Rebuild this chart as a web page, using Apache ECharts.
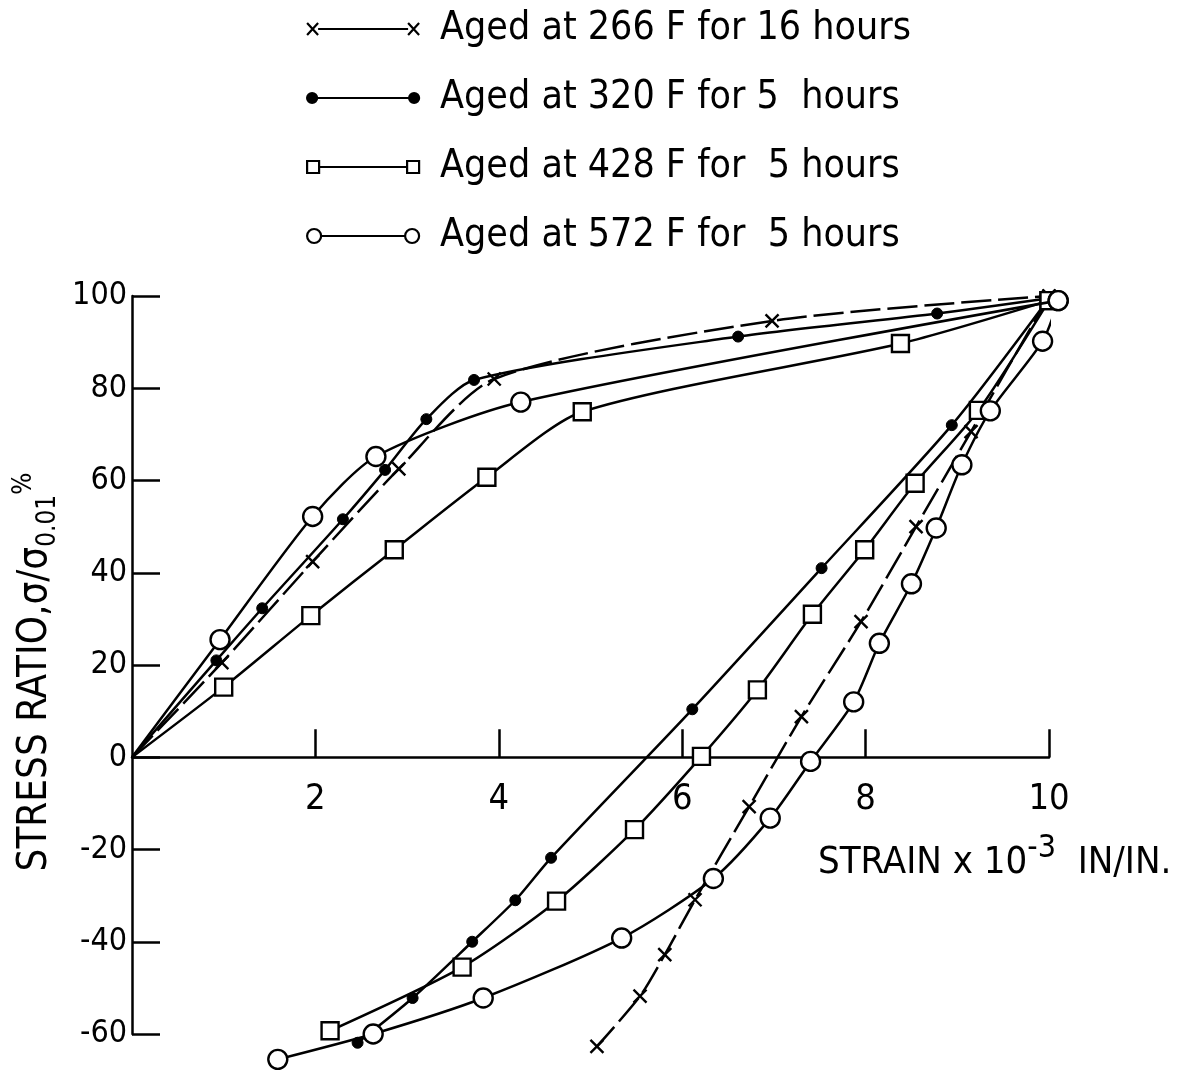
<!DOCTYPE html>
<html>
<head>
<meta charset="utf-8">
<script src="https://cdn.jsdelivr.net/npm/echarts@6/dist/echarts.min.js"></script>
<style>
  html, body { margin: 0; padding: 0; background: #fff; }
  #chart { width: 1184px; height: 1072px; }
</style>
</head>
<body>
<div id="chart"></div>
<script>
// Stress ratio vs. strain, loading branch then unloading branch, per ageing condition.
const seriesNames = [
  'Aged at 266 F for 16 hours',
  'Aged at 320 F for 5  hours',
  'Aged at 428 F for  5 hours',
  'Aged at 572 F for  5 hours'
];

// [strain x 10^-3 in/in, stress ratio %]
const load266 = [[0, 0], [0.98, 20.5], [1.97, 42.4], [2.91, 62.5], [3.95, 82.0], [6.98, 94.6], [10.0, 100]];
const unload266 = [[10.0, 100], [9.15, 70.6], [8.55, 50.0], [7.95, 29.4], [7.30, 8.8], [6.73, -10.7],
  [6.14, -30.9], [5.81, -42.8], [5.54, -51.8], [5.07, -62.7]];

const load320 = [[0, 0], [0.92, 21.0], [1.42, 32.3], [2.30, 51.6], [2.76, 62.3], [3.21, 73.3], [3.73, 81.8],
  [6.61, 91.2], [8.78, 96.2], [10.0, 99.5]];
const unload320 = [[10.0, 99.5], [8.94, 72.0], [7.52, 41.0], [6.11, 10.4], [4.57, -21.8], [4.18, -31.0],
  [3.71, -40.0], [3.06, -52.2], [2.46, -61.9]];

const load428 = [[0, 0], [1.00, 15.2], [1.95, 30.7], [2.86, 45.0], [3.87, 60.7], [4.91, 74.9], [8.38, 89.7], [10.0, 99]];
const unload428 = [[10.0, 99], [9.23, 75.2], [8.54, 59.4], [7.99, 45.0], [7.42, 31.0], [6.82, 14.6], [6.21, 0.2],
  [5.48, -15.7], [4.63, -31.2], [3.60, -45.5], [2.16, -59.3]];

const load572 = [[0, 0], [0.96, 25.5], [1.97, 52.2], [2.66, 65.2], [4.24, 77.0], [10.1, 99]];
const unload572 = [[10.1, 99], [9.93, 90.2], [9.36, 75.1], [9.05, 63.4], [8.77, 49.7], [8.50, 37.6], [8.15, 24.7],
  [7.87, 12.0], [7.40, -0.9], [6.96, -13.2], [6.34, -26.3], [5.34, -39.2], [3.83, -52.2], [2.63, -60.0], [1.59, -65.5]];

const xTicks = [0, 2, 4, 6, 8, 10];
const yTicks = [-60, -40, -20, 0, 20, 40, 60, 80, 100];

const NARROW = "'Liberation Sans Narrow', 'DejaVu Sans Condensed', 'Roboto Condensed', 'Liberation Sans', sans-serif";
const INK = '#000';

// plot area
const GRID = { left: 132, right: 135, top: 296, bottom: 38 };
const plotHeight = 1072 - GRID.top - GRID.bottom;
const yMin = yTicks[0], yMax = yTicks[yTicks.length - 1];
// the strain axis (with its labels) sits on the zero-stress line
const xAxisOffset = -plotHeight * (0 - yMin) / (yMax - yMin);

const markerX = 'path://M0,0L10,10M10,0L0,10';

const seriesStyles = [
  { symbol: markerX, symbolSize: 13, itemStyle: { color: 'rgba(0,0,0,0)', borderColor: INK, borderWidth: 2.4 },
    lineType: [30, 7] },
  { symbol: 'circle', symbolSize: 11, itemStyle: { color: INK, borderColor: INK, borderWidth: 1 }, lineType: 'solid' },
  { symbol: 'rect', symbolSize: 17, itemStyle: { color: '#fff', borderColor: INK, borderWidth: 2.4 }, lineType: 'solid' },
  { symbol: 'circle', symbolSize: 19, itemStyle: { color: '#fff', borderColor: INK, borderWidth: 2.4 }, lineType: 'solid' }
];

const branches = [
  [load266, unload266],
  [load320, unload320],
  [load428, unload428],
  [load572, unload572]
];

// the origin is shared by every loading branch and carries no marker
function toData(points) {
  return points.map(p => (p[0] === 0 && p[1] === 0) ? { value: p, symbol: 'none' } : { value: p });
}

const series = [];
branches.forEach((pair, i) => {
  const st = seriesStyles[i];
  pair.forEach(points => {
    series.push({
      type: 'line',
      name: seriesNames[i],
      data: toData(points),
      smooth: 0.25,
      clip: false,
      symbol: st.symbol,
      symbolSize: st.symbolSize,
      itemStyle: st.itemStyle,
      lineStyle: { color: INK, width: 2.5, type: st.lineType },
      z: 2 + i
    });
  });
});

const legendIcons = [
  'path://M0,2L11,14M11,2L0,14M11,8L101,8M101,2L112,14M112,2L101,14',
  'path://M10,8A5,5,0,1,1,0,8A5,5,0,1,1,10,8ZM10,8L102,8M112,8A5,5,0,1,1,102,8A5,5,0,1,1,112,8Z',
  'path://M0,2H12V14H0ZM12,8H100M100,2H112V14H100Z',
  'path://M14,8A7,7,0,1,1,0,8A7,7,0,1,1,14,8ZM14,8H98M112,8A7,7,0,1,1,98,8A7,7,0,1,1,112,8Z'
];
const legendFills = ['rgba(0,0,0,0)', INK, '#fff', '#fff'];

const chart = echarts.init(document.getElementById('chart'), null, { renderer: 'canvas' });

chart.setOption({
  animation: false,
  backgroundColor: '#fff',
  legend: {
    orient: 'vertical',
    left: 306,
    top: 4,
    padding: 0,
    itemWidth: 112,
    itemHeight: 16,
    itemGap: 19,
    selectedMode: false,
    textStyle: { fontFamily: NARROW, fontSize: 39, lineHeight: 50, color: INK, padding: [0, 0, 0, 16] },
    data: seriesNames.map((n, i) => ({
      name: n,
      icon: legendIcons[i],
      itemStyle: { color: legendFills[i], borderColor: INK, borderWidth: 2.2 }
    }))
  },
  grid: {
    left: GRID.left, right: GRID.right, top: GRID.top, bottom: GRID.bottom,
    containLabel: false,
    outerBoundsMode: 'none'
  },
  xAxis: {
    type: 'value',
    min: xTicks[0],
    max: xTicks[xTicks.length - 1],
    interval: 2,
    offset: xAxisOffset,
    axisLine: { onZero: false, lineStyle: { color: INK, width: 2.5 } },
    axisTick: { inside: true, length: 28, lineStyle: { color: INK, width: 2.5 } },
    axisLabel: {
      showMinLabel: false,
      margin: 24,
      color: INK,
      fontFamily: NARROW,
      fontSize: 36
    },
    splitLine: { show: false }
  },
  yAxis: {
    type: 'value',
    min: yMin,
    max: yMax,
    interval: 20,
    axisLine: { show: true, onZero: false, lineStyle: { color: INK, width: 2.5 } },
    axisTick: { show: true, inside: true, length: 28, lineStyle: { color: INK, width: 2.5 } },
    axisLabel: {
      margin: 5,
      color: INK,
      fontFamily: NARROW,
      fontSize: 32
    },
    splitLine: { show: false }
  },
  graphic: [
    {
      type: 'text',
      x: 818,
      y: 863,
      style: {
        text: '{a|STRAIN x 10}{sup|-3}{a|  IN/IN.}',
        align: 'left',
        verticalAlign: 'middle',
        fill: INK,
        rich: {
          a: { fontFamily: NARROW, fontSize: 38, lineHeight: 60, fill: INK },
          sup: { fontFamily: NARROW, fontSize: 32, lineHeight: 24, verticalAlign: 'top', fill: INK }
        }
      }
    },
    {
      type: 'text',
      x: 36,
      y: 672,
      rotation: Math.PI / 2,
      style: {
        text: '{a|STRESS RATIO,σ/σ}{sub|0.01}{sup|%}',
        align: 'center',
        verticalAlign: 'middle',
        fill: INK,
        rich: {
          a: { fontFamily: NARROW, fontSize: 40, lineHeight: 50, fill: INK },
          sub: { fontFamily: NARROW, fontSize: 26, lineHeight: 22, verticalAlign: 'bottom', fill: INK },
          sup: { fontFamily: NARROW, fontSize: 26, lineHeight: 42, verticalAlign: 'top', fill: INK }
        }
      }
    }
  ],
  series: series
});
</script>
</body>
</html>
